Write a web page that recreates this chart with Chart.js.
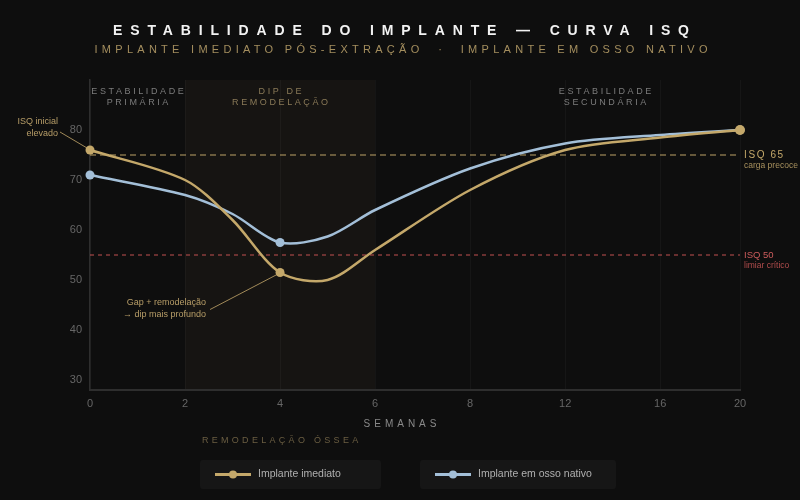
<!DOCTYPE html>
<html lang="pt">
<head>
<meta charset="utf-8">
<title>Estabilidade do implante — curva ISQ</title>
<script src="https://cdn.jsdelivr.net/npm/chart.js@4.4.1/dist/chart.umd.min.js"></script>
<style>
  html, body { margin: 0; padding: 0; background: #0e0e0e; }
</style>
</head>
<body>
<canvas id="isq" width="800" height="500"></canvas>
<script>
// ticks do eixo x (semanas)
const semanas = [0, 2, 4, 6, 8, 12, 16, 20];
// pontos medidos (semanas) e ISQ de cada grupo
const semanasMedidas = [0, 2, 3, 4, 5, 6, 8, 12, 16, 20];
const isqImediato = [76, 70, 62, 51.5, 50, 56, 68, 76, 78.5, 80];
const isqNativo = [71, 67, 63.2, 57.5, 58.7, 64, 72.3, 77.3, 79, 80];
const semanasMarcadas = [0, 4, 20];
const yTicks = [30, 40, 50, 60, 70, 80];

// linhas de referência
const limiarValores = [75, 55];
const limiarTitulos = ['ISQ 65', 'ISQ 50'];
const limiarNotas = ['carga precoce', 'limiar crítico'];

// fases
const faseInicio = [0, 2, 8];
const faseFim = [2, 6, 20];
const faseNomes = [['ESTABILIDADE', 'PRIMÁRIA'], ['DIP DE', 'REMODELAÇÃO'], ['ESTABILIDADE', 'SECUNDÁRIA']];

const OURO = '#c4a86a';
const AZUL = '#a3bfd8';
const VERMELHO = '#cc5c5c';
const FONTE = '"Liberation Sans", Arial, sans-serif';

// eixo das semanas: ticks igualmente espaçados, último intervalo mais curto
const passos = [1, 1, 1, 1, 1, 1, 0.84];
class SemanaScale extends Chart.LinearScale {
    static id = 'semana';
    static defaults = {};
    toSlot(v) {
        let s = 0;
        for (let i = 0; i < semanas.length - 1; i++) {
            const a = semanas[i], b = semanas[i + 1];
            if (v <= b || i === semanas.length - 2) return s + (v - a) / (b - a) * passos[i];
            s += passos[i];
        }
        return s;
    }
    getPixelForValue(v) {
        const total = passos.reduce((a, b) => a + b, 0);
        return this.getPixelForDecimal(this.toSlot(v) / total);
    }
}
Chart.register(SemanaScale);

function texto(ctx, str, x, y, opts) {
    ctx.save();
    ctx.font = opts.font;
    ctx.fillStyle = opts.color;
    ctx.textAlign = opts.align || 'center';
    ctx.textBaseline = 'middle';
    const sp = opts.spacing || 0;
    ctx.letterSpacing = sp + 'px';
    let dx = 0;
    if (ctx.textAlign === 'center') dx = sp / 2;
    else if (ctx.textAlign === 'right') dx = sp;
    ctx.fillText(str, x + dx, y);
    ctx.restore();
}

// texto espaçado ajustado a uma largura
function textoLargo(ctx, str, cx, y, largura, font, color) {
    ctx.save();
    ctx.font = font;
    const w = ctx.measureText(str).width;
    const sp = (largura - w) / (str.length - 1);
    ctx.restore();
    texto(ctx, str, cx, y, { font, color, spacing: sp });
}

const decor = {
    id: 'decor',
    beforeDraw(chart) {
        const { ctx, chartArea: a, scales: { x } } = chart;
        ctx.save();
        ctx.fillStyle = '#0e0e0e';
        ctx.fillRect(0, 0, chart.width, chart.height);
        // faixa do dip de remodelação
        ctx.fillStyle = '#161412';
        const x0 = x.getPixelForValue(faseInicio[1]), x1 = x.getPixelForValue(faseFim[1]);
        ctx.fillRect(x0, a.top, x1 - x0, a.bottom - a.top);
        ctx.restore();
    },
    beforeDatasetsDraw(chart) {
        const { ctx, chartArea: a, scales: { y } } = chart;
        const cores = [OURO, VERMELHO];
        limiarValores.forEach((v, i) => {
            const py = y.getPixelForValue(v);
            ctx.save();
            ctx.strokeStyle = i === 0 ? 'rgba(204,176,112,0.92)' : 'rgba(210,88,88,0.92)';
            ctx.lineWidth = 1;
            ctx.setLineDash(i === 0 ? [6, 4] : [4, 4]);
            ctx.beginPath();
            ctx.moveTo(a.left, py);
            ctx.lineTo(a.right, py);
            ctx.stroke();
            ctx.restore();
            texto(ctx, limiarTitulos[i], a.right + 4, py, {
                font: (i === 0 ? '10px ' : '9.5px ') + FONTE, color: cores[i], align: 'left', spacing: i === 0 ? 1.6 : 0
            });
            texto(ctx, limiarNotas[i], a.right + 4, py + 11, {
                font: '8.5px ' + FONTE, color: i === 0 ? '#a8915e' : '#b04c4c', align: 'left'
            });
        });
    },
    afterDatasetsDraw(chart) {
        const { ctx, chartArea: a, scales: { x, y } } = chart;

        // nomes das fases
        faseNomes.forEach((linhas, i) => {
            const cx = (x.getPixelForValue(faseInicio[i]) + x.getPixelForValue(faseFim[i])) / 2;
            const cor = i === 1 ? '#8a7a58' : '#7c7c7c';
            linhas.forEach((l, j) => {
                texto(ctx, l, cx, a.top + 12 + j * 11, { font: '9px ' + FONTE, color: cor, spacing: 2.6 });
            });
        });

        // anotações
        const i4 = semanasMedidas.indexOf(4);
        const p0 = { x: x.getPixelForValue(semanasMedidas[0]), y: y.getPixelForValue(isqImediato[0]) };
        const p4 = { x: x.getPixelForValue(semanasMedidas[i4]), y: y.getPixelForValue(isqImediato[i4]) };
        ctx.save();
        ctx.strokeStyle = 'rgba(196,168,106,0.8)';
        ctx.lineWidth = 1;
        ctx.beginPath();
        ctx.moveTo(p0.x - 30, p0.y - 18);
        ctx.lineTo(p0.x - 3, p0.y - 2);
        ctx.moveTo(p4.x - 70, p4.y + 37);
        ctx.lineTo(p4.x - 3, p4.y + 2);
        ctx.stroke();
        ctx.restore();
        const fa = '9px ' + FONTE;
        texto(ctx, 'ISQ inicial', p0.x - 32, p0.y - 28, { font: fa, color: '#b89e68', align: 'right' });
        texto(ctx, 'elevado', p0.x - 32, p0.y - 16, { font: fa, color: '#b89e68', align: 'right' });
        texto(ctx, 'Gap + remodelação', p4.x - 74, p4.y + 30, { font: fa, color: '#b89e68', align: 'right' });
        texto(ctx, '→ dip mais profundo', p4.x - 74, p4.y + 42, { font: fa, color: '#b89e68', align: 'right' });

        // títulos
        textoLargo(ctx, 'ESTABILIDADE DO IMPLANTE — CURVA ISQ', 401, 31, 576, 'bold 14px ' + FONTE, '#f2f2f2');
        textoLargo(ctx, 'IMPLANTE IMEDIATO PÓS-EXTRAÇÃO  ·  IMPLANTE EM OSSO NATIVO', 401, 50, 613, '11px ' + FONTE, '#a48e5e');

        // eixo x
        texto(ctx, 'SEMANAS', 400, 424, { font: '10px ' + FONTE, color: '#8a8a8a', spacing: 4 });
        texto(ctx, 'REMODELAÇÃO ÓSSEA', x.getPixelForValue(4), 441, { font: '9px ' + FONTE, color: '#6b5e42', spacing: 3.3 });

        // legenda
        const caixas = [[200, 181], [420, 196]];
        chart.data.datasets.forEach((ds, i) => {
            const [bx, bw] = caixas[i];
            const by = 460, bh = 29, my = by + bh / 2;
            ctx.save();
            ctx.fillStyle = '#161616';
            ctx.beginPath();
            ctx.roundRect(bx, by, bw, bh, 3);
            ctx.fill();
            ctx.strokeStyle = ds.borderColor;
            ctx.lineWidth = 3;
            ctx.beginPath();
            ctx.moveTo(bx + 15, my);
            ctx.lineTo(bx + 51, my);
            ctx.stroke();
            ctx.fillStyle = ds.borderColor;
            ctx.beginPath();
            ctx.arc(bx + 33, my, 4, 0, Math.PI * 2);
            ctx.fill();
            ctx.restore();
            texto(ctx, ds.label, bx + 58, my, { font: '10.5px ' + FONTE, color: '#b0b0b0', align: 'left' });
        });
    }
};

const raio = (c) => {
    const s = semanasMedidas[c.dataIndex];
    if (!semanasMarcadas.includes(s)) return 0;
    return c.dataIndex === semanasMedidas.length - 1 && c.datasetIndex === 0 ? 5 : 4.5;
};

new Chart(document.getElementById('isq'), {
    type: 'line',
    data: {
        datasets: [
            {
                label: 'Implante imediato',
                data: semanasMedidas.map((s, i) => ({ x: s, y: isqImediato[i] })),
                borderColor: OURO,
                backgroundColor: OURO,
                borderWidth: 2.5,
                tension: 0.3,
                clip: false,
                pointRadius: raio,
                pointBorderWidth: 0
            },
            {
                label: 'Implante em osso nativo',
                data: semanasMedidas.map((s, i) => ({ x: s, y: isqNativo[i] })),
                borderColor: AZUL,
                backgroundColor: AZUL,
                borderWidth: 2.5,
                tension: 0.3,
                clip: false,
                pointRadius: raio,
                pointBorderWidth: 0
            }
        ]
    },
    options: {
        responsive: false,
        animation: false,
        events: [],
        layout: { padding: { top: 80, left: 60, right: 60, bottom: 90 } },
        scales: {
            x: {
                type: 'semana',
                min: 0,
                max: 20,
                afterBuildTicks: s => { s.ticks = semanas.map(v => ({ value: v })); },
                afterFit: s => { s.height = 20; },
                ticks: {
                    color: '#666',
                    font: { size: 11, family: FONTE },
                    padding: 7,
                    maxRotation: 0,
                    autoSkip: false,
                    callback: v => String(v)
                },
                grid: { color: 'rgba(255,255,255,0.035)', drawTicks: false },
                border: { color: '#2e2e2e', width: 2 }
            },
            y: {
                min: 28,
                max: 90,
                afterBuildTicks: s => { s.ticks = yTicks.map(v => ({ value: Math.max(v, s.min) })); },
                afterFit: s => { s.width = 30; },
                ticks: {
                    color: '#666',
                    font: { size: 11, family: FONTE },
                    padding: 8,
                    callback: (v, i) => String(yTicks[i])
                },
                grid: { display: false, drawTicks: false },
                border: { color: '#2e2e2e', width: 1.5 }
            }
        },
        plugins: {
            legend: { display: false },
            tooltip: { enabled: false },
            title: { display: false }
        }
    },
    plugins: [decor]
});
</script>
</body>
</html>
